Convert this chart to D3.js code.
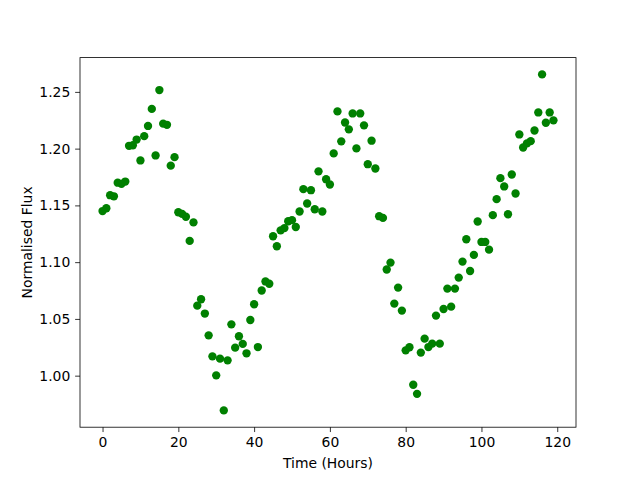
<!DOCTYPE html>
<html>
<head>
<meta charset="utf-8">
<script src="https://cdn.jsdelivr.net/npm/d3@7"></script>
<style>
  body { margin: 0; background: #fff; }
  svg { font-family: "DejaVu Sans", sans-serif; }
</style>
</head>
<body>
<svg width="640" height="480"></svg>
<script>
// time in hours, one reading per hour
var hours = d3.range(0, 120);

var flux = [
  1.145, 1.1475, 1.159, 1.158, 1.170, 1.169, 1.171, 1.2025, 1.203, 1.208,
  1.1896, 1.211, 1.220, 1.235, 1.194, 1.2516, 1.222, 1.221, 1.185, 1.1925,
  1.144, 1.1425, 1.140, 1.1187, 1.135, 1.0617, 1.0673, 1.0547, 1.0355, 1.017,
  1.0003, 1.015, 0.9694, 1.0135, 1.0452, 1.0247, 1.0347, 1.028, 1.0197, 1.049,
  1.0629, 1.0252, 1.075, 1.083, 1.081, 1.1228, 1.114, 1.128, 1.130, 1.136,
  1.137, 1.131, 1.1446, 1.1643, 1.1517, 1.1634, 1.1466, 1.180, 1.1446, 1.173,
  1.1684, 1.1958, 1.2328, 1.2064, 1.223, 1.217, 1.231, 1.2002, 1.231, 1.2205,
  1.1863, 1.207, 1.1825, 1.1405, 1.139, 1.0935, 1.0996, 1.0635, 1.0776, 1.0573,
  1.0223, 1.025, 0.992, 0.984, 1.0203, 1.0326, 1.0252, 1.0282, 1.0529, 1.0282,
  1.0587, 1.0767, 1.0608, 1.0767, 1.0864, 1.1005, 1.1202, 1.0922, 1.1064, 1.1358,
  1.1178, 1.1178, 1.111, 1.1414, 1.1555, 1.174, 1.1667, 1.1422, 1.1772, 1.1605,
  1.2125, 1.201, 1.2046, 1.2066, 1.216, 1.2319, 1.2654, 1.2228, 1.2319, 1.2249
];

var xTicks = [0, 20, 40, 60, 80, 100, 120];
var yTicks = [1.00, 1.05, 1.10, 1.15, 1.20, 1.25];

var svg = d3.select("svg"),
    margin = {left: 80, right: 64, top: 57.6, bottom: 52.8},
    width = +svg.attr("width") - margin.left - margin.right,
    height = +svg.attr("height") - margin.top - margin.bottom;

// matplotlib style 5% margins
function padded(ext) {
  var d = ext[1] - ext[0];
  return [ext[0] - d * 0.05, ext[1] + d * 0.05];
}

var x = d3.scaleLinear().domain(padded(d3.extent(hours))).range([0, width]),
    y = d3.scaleLinear().domain(padded(d3.extent(flux))).range([height, 0]);

var g = svg.append("g").attr("transform", "translate(" + margin.left + "," + margin.top + ")");

g.append("g")
  .selectAll("circle")
  .data(hours)
  .enter().append("circle")
    .attr("cx", function(d) { return x(d); })
    .attr("cy", function(d, i) { return y(flux[i]); })
    .attr("r", 4.17)
    .attr("fill", "#008000");

var xAxis = g.append("g")
  .attr("transform", "translate(0," + height + ")")
  .call(d3.axisBottom(x).tickValues(xTicks).tickSize(4.86).tickPadding(4.9).tickFormat(d3.format("d")));

var yAxis = g.append("g")
  .call(d3.axisLeft(y).tickValues(yTicks).tickSize(4.86).tickPadding(4.9).tickFormat(d3.format(".2f")));

[xAxis, yAxis].forEach(function(a) {
  a.select(".domain").remove();
  a.selectAll("line").attr("stroke", "#000").attr("stroke-width", 0.8);
  a.selectAll("text").attr("fill", "#000").style("font-size", "13.9px").style("font-family", "DejaVu Sans");
});

// frame
g.append("rect")
  .attr("width", width)
  .attr("height", height)
  .attr("fill", "none")
  .attr("stroke", "#000")
  .attr("stroke-width", 0.8);

svg.append("text")
  .attr("x", margin.left + width / 2)
  .attr("y", 468)
  .attr("text-anchor", "middle")
  .style("font-size", "13.9px")
  .text("Time (Hours)");

svg.append("text")
  .attr("transform", "translate(32," + (margin.top + height / 2) + ") rotate(-90)")
  .attr("text-anchor", "middle")
  .style("font-size", "13.9px")
  .text("Normalised Flux");
</script>
</body>
</html>
